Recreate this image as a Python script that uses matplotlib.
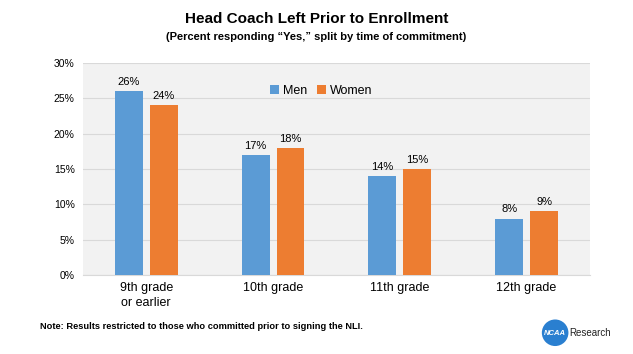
import matplotlib.pyplot as plt
import numpy as np
from matplotlib.patches import Ellipse

plt.rcParams['font.family'] = ['Liberation Sans', 'DejaVu Sans']

categories = ['9th grade\nor earlier', '10th grade', '11th grade', '12th grade']
men = [26, 17, 14, 8]
women = [24, 18, 15, 9]

fig = plt.figure(figsize=(6.33, 3.54), dpi=100)
ax = fig.add_axes([0.131, 0.223, 0.801, 0.599])
ax.set_facecolor('#F2F2F2')

x = np.arange(len(categories))
w = 0.22
b1 = ax.bar(x - 0.138, men, w, color='#5B9BD5', label='Men', zorder=3)
b2 = ax.bar(x + 0.138, women, w, color='#ED7D31', label='Women', zorder=3)
for bars in (b1, b2):
    for r in bars:
        ax.text(r.get_x() + r.get_width() / 2, r.get_height() + 0.6, f'{r.get_height():.0f}%',
                ha='center', va='bottom', fontsize=8)

ax.set_xlim(-0.5, 3.5)
ax.set_ylim(0, 30)
ax.set_yticks(range(0, 31, 5))
ax.set_yticklabels([f'{v}%' for v in range(0, 31, 5)], fontsize=7.5)
ax.set_xticks(x)
ax.set_xticklabels(categories, fontsize=9, linespacing=1.3)
ax.tick_params(length=0)
ax.tick_params(axis='y', pad=6)
ax.tick_params(axis='x', pad=5)
ax.grid(axis='y', color='#D9D9D9', linewidth=0.8, zorder=0)
for s in ['top', 'right', 'left']:
    ax.spines[s].set_visible(False)
ax.spines['bottom'].set_color('#D9D9D9')

ax.legend(loc='upper center', bbox_to_anchor=(0.47, 0.95), ncol=2, frameon=False,
          fontsize=9, handlelength=0.7, handleheight=0.7, handletextpad=0.3, columnspacing=0.8)

fig.text(0.5, 0.945, 'Head Coach Left Prior to Enrollment', ha='center', va='center',
         fontsize=11, fontweight='bold')
fig.text(0.5, 0.895, '(Percent responding \u201cYes,\u201d split by time of commitment)', ha='center',
         va='center', fontsize=8, fontweight='bold')
fig.text(0.063, 0.077, 'Note: Results restricted to those who committed prior to signing the NLI.',
         ha='left', va='center', fontsize=6.7, fontweight='bold')

fig.patches.append(Ellipse((0.877, 0.06), 0.042, 0.075, transform=fig.transFigure,
                           facecolor='#2a7fd0', edgecolor='none'))
fig.text(0.877, 0.058, 'NCAA', ha='center', va='center', fontsize=5.5, color='white',
         fontweight='bold', style='italic')
fig.text(0.9, 0.058, 'Research', ha='left', va='center', fontsize=7, color='#222222')

fig.savefig('out.png', dpi=100)
